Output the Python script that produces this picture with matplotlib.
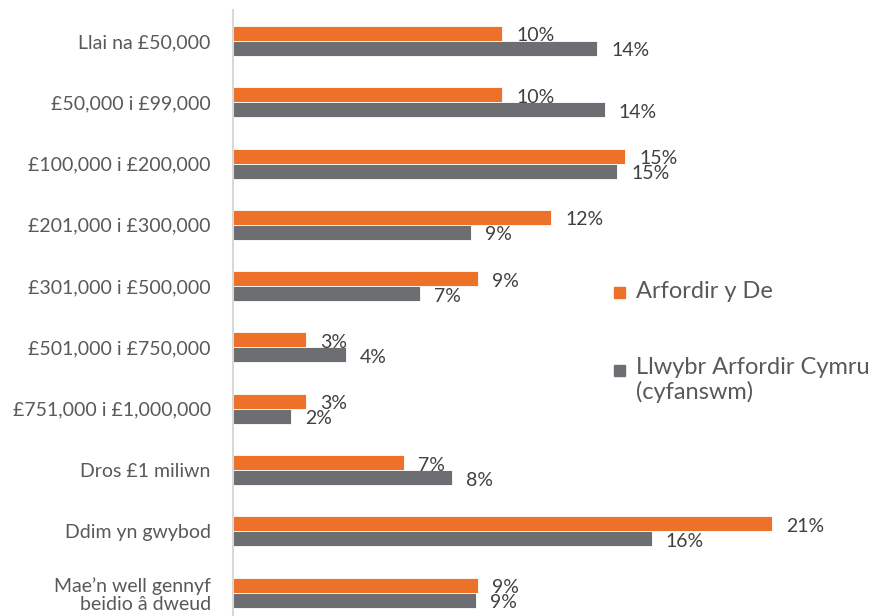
import matplotlib
matplotlib.use("Agg")
import matplotlib.pyplot as plt
from matplotlib.patches import Rectangle
import numpy as np

plt.rcParams['font.family'] = ['Lato', 'DejaVu Sans']

categories = [
    "Llai na £50,000",
    "£50,000 i £99,000",
    "£100,000 i £200,000",
    "£201,000 i £300,000",
    "£301,000 i £500,000",
    "£501,000 i £750,000",
    "£751,000 i £1,000,000",
    "Dros £1 miliwn",
    "Ddim yn gwybod",
    "Mae\u2019n well gennyf\nbeidio \u00e2 dweud",
]
series_names = ["Arfordir y De", "Llwybr Arfordir Cymru\n(cyfanswm)"]
south = [10.35, 10.35, 15.08, 12.23, 9.42, 2.8, 2.8, 6.58, 20.73, 9.42]
wales = [14.0, 14.3, 14.77, 9.15, 7.19, 4.35, 2.23, 8.42, 16.1, 9.35]
colors = ["#ED7128", "#6D6E71"]

W, H = 880, 616
fig = plt.figure(figsize=(W / 100, H / 100), dpi=100)
ax_left, ax_right = 233, 833
ax_top, span = 10.3, 613
ax = fig.add_axes([ax_left / W, 1 - (ax_top + span) / H, (ax_right - ax_left) / W, span / H])

px_per_pct = 26.0
ax.set_xlim(0, (ax_right - ax_left) / px_per_pct)
ax.set_ylim(len(categories) - 0.5, -0.5)

y = np.arange(len(categories))
bh = 15 / 61.3
for vals, col, off in [(south, colors[0], -bh / 2), (wales, colors[1], bh / 2)]:
    ax.barh(y + off, vals, height=bh, color=col, edgecolor="white", linewidth=0.6)
    for yy, v in zip(y + off, vals):
        ax.text(v + 14 / px_per_pct, yy + 0.04, f"{round(v):d}%", va="center", ha="left",
                fontsize=14, color="#404040")

ax.set_yticks(y)
ax.set_yticklabels(categories, fontsize=14, color="#595959", linespacing=1.1)
ax.tick_params(axis="y", length=0, pad=16)
ax.set_xticks([])
for s in ["top", "right", "bottom"]:
    ax.spines[s].set_visible(False)
ax.spines["left"].set_color("#D9D9D9")
ax.spines["left"].set_linewidth(1.5)

# legend (marker aligned with first line of each label)
for col, yc in [(colors[0], 292), (colors[1], 370)]:
    fig.patches.append(Rectangle((614 / W, 1 - (yc + 5.5) / H), 11 / W, 11 / H,
                                 transform=fig.transFigure, color=col))
fig.text(636 / W, 1 - 292 / H, series_names[0], ha="left", va="center", fontsize=17, color="#595959")
fig.text(636 / W, 1 - 357 / H, series_names[1], ha="left", va="top", fontsize=17,
         color="#595959", linespacing=1.15)

fig.savefig("out.png", dpi=100)
